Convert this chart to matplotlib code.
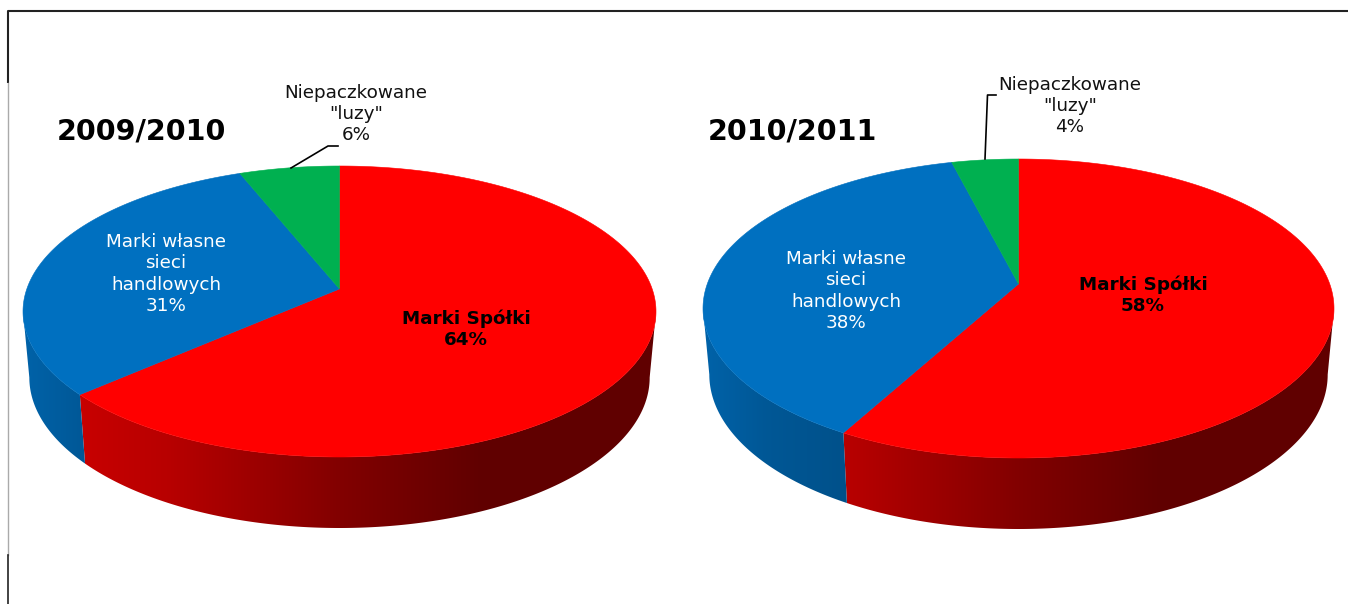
import numpy as np
import matplotlib as mpl
mpl.use("Agg")
import matplotlib.pyplot as plt
from matplotlib.patches import Polygon

years = ['2009/2010', '2010/2011']
segments = ['Marki Spółki', 'Marki własne\nsieci\nhandlowych', 'Niepaczkowane\n"luzy"']
shares_0910 = [64, 31, 6]
shares_1011 = [58, 38, 4]
colors = ['#FF0000', '#0070C0', '#00B050']

# darkening of the pie side, as a function of horizontal position on the pie
shade_x = [-1, -0.8, -0.54, 0, 0.44, 1]
shade_k = [0.88, 0.78, 0.72, 0.51, 0.38, 0.38]

WALL_DROP = 66
WALL_FLARE = 5
WALL_SHRINK = 0.98


def rim(phi, lift):
    # circle -> ellipse projection, the pie centre ends up shifted up by lift
    x, y = np.sin(phi), np.cos(phi)
    d = 1 + lift * y
    return x * np.sqrt(1 - lift ** 2) / d, (y + lift) / d


def draw_pie(ax, cx, cy, rx, ry, lift, shares):
    fr = np.array(shares, dtype=float) / sum(shares)
    ends = np.cumsum(fr) * 2 * np.pi
    starts = ends - fr * 2 * np.pi

    for s, e, c in zip(starts, ends, colors):
        phi = np.linspace(s, e, 1500)
        x, y = rim(phi, lift)

        # side wall, only the front part is visible
        m = y <= 0
        if m.sum() > 1:
            top = np.column_stack([cx + rx * x[m], cy - ry * y[m]])
            bot = np.column_stack([cx + WALL_SHRINK * rx * x[m],
                                   cy + WALL_DROP - (ry + WALL_FLARE) * y[m]])
            poly = Polygon(np.vstack([top, bot[::-1]]), closed=True, fc='none', ec='none')
            ax.add_patch(poly)
            xs = np.linspace(-1, 1, 640)
            k = np.interp(xs, shade_x, shade_k)
            grad = k[None, :, None] * np.array(mpl.colors.to_rgb(c))[None, None, :]
            im = ax.imshow(grad, extent=(cx - rx, cx + rx, cy + 240, cy - 20),
                           aspect='auto', interpolation='bilinear', zorder=2)
            im.set_clip_path(poly)

        # top face
        pts = np.column_stack([cx + rx * x, cy - ry * y])
        apex = [cx, cy - ry * lift]
        ax.add_patch(Polygon(np.vstack([[apex], pts]), closed=True, fc=c, ec=c, lw=0.4, zorder=3))

    return fr


fig = plt.figure(figsize=(13.48, 6.04), dpi=100)
ax = fig.add_axes([0, 0, 1, 1])

draw_pie(ax, 339.5, 311.5, 316.5, 145.5, 0.155, shares_0910)
draw_pie(ax, 1018.5, 308.5, 315.5, 149.5, 0.164, shares_1011)

ax.set_xlim(0, 1348)
ax.set_ylim(604, 0)
ax.axis('off')

# frame
ax.plot([1348, 8, 8], [11, 11, 83], color='#222222', lw=1.5, solid_capstyle='butt')
ax.plot([8, 8], [83, 555], color='#aaaaaa', lw=1)
ax.plot([8, 8], [555, 604], color='#222222', lw=1.2)

# leader lines
ax.plot([291, 328, 338], [168, 146, 146], color='black', lw=1.2, zorder=4)
ax.plot([985, 987.5, 996], [159, 95, 95], color='black', lw=1.2, zorder=4)

ax.text(141.5, 131, years[0], fontsize=20.5, fontweight='bold', ha='center', va='center')
ax.text(792.5, 131, years[1], fontsize=20.5, fontweight='bold', ha='center', va='center')

kw = dict(fontsize=13.2, ha='center', va='center', linespacing=1.22, zorder=5)
ax.text(466, 329, f'{segments[0]}\n{shares_0910[0]}%', fontweight='bold', color='black', **kw)
ax.text(166, 274, f'{segments[1]}\n{shares_0910[1]}%', color='white', **kw)
ax.text(356, 114, f'{segments[2]}\n{shares_0910[2]}%', color='#111111', **kw)
ax.text(1143, 295, f'{segments[0]}\n{shares_1011[0]}%', fontweight='bold', color='black', **kw)
ax.text(846, 291, f'{segments[1]}\n{shares_1011[1]}%', color='white', **kw)
ax.text(1070, 106, f'{segments[2]}\n{shares_1011[2]}%', color='#111111', **kw)

fig.savefig('out.png', dpi=100)
